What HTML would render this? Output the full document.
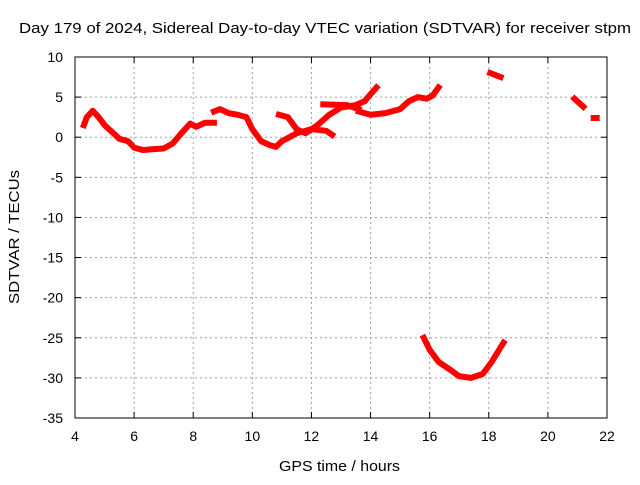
<!DOCTYPE html>
<html><head><meta charset="utf-8"><style>
body{margin:0;background:#fff}
svg text{font-family:"Liberation Sans",sans-serif;font-size:14px;fill:#000}
</style></head><body>
<svg id="c" width="640" height="480">
<rect width="640" height="480" fill="#fff"/>
<text x="19" y="33" textLength="612" lengthAdjust="spacingAndGlyphs" style="font-size:15px">Day 179 of 2024, Sidereal Day-to-day VTEC variation (SDTVAR) for receiver stpm</text>
<text x="279" y="471" textLength="121" lengthAdjust="spacingAndGlyphs" style="font-size:15px">GPS time / hours</text>
<text transform="translate(19,304) rotate(-90)" textLength="134" lengthAdjust="spacingAndGlyphs" style="font-size:15px">SDTVAR / TECUs</text>
<g id="grid"></g><g id="marks"></g>
<rect x="75" y="57" width="532" height="361" fill="none" stroke="#000"/>
</svg>
<script>
const xTicks=[4,6,8,10,12,14,16,18,20,22];
const yTicks=[10,5,0,-5,-10,-15,-20,-25,-30,-35];
const seriesA_t=[4.3,4.4,4.6,4.8,5.0,5.3,5.5,5.8,6.0,6.3,6.6,7.0,7.3,7.6,7.9,8.1,8.4,8.7];
const seriesA_v=[1.5,2.5,3.3,2.5,1.5,0.5,-0.2,-0.5,-1.3,-1.6,-1.5,-1.4,-0.8,0.5,1.7,1.3,1.8,1.8];
const seriesB_t=[8.7,8.9,9.2,9.5,9.8,10.0,10.3,10.6,10.8,11.0,11.5,12.0,12.5,12.7];
const seriesB_v=[3.2,3.5,3.0,2.8,2.5,1.0,-0.5,-1.0,-1.2,-0.5,0.5,1.0,0.8,0.3];
const seriesC_t=[10.9,11.2,11.5,11.8,12.2,12.6,13.0,13.5,13.8,14.2];
const seriesC_v=[2.8,2.5,1.0,0.5,1.5,2.8,3.7,4.0,4.5,6.2];
const seriesD_t=[12.4,13.2,13.6];
const seriesD_v=[4.1,4.0,3.5];
const seriesE_t=[13.6,14.0,14.5,15.0,15.3,15.6,15.9,16.1,16.3];
const seriesE_v=[3.2,2.8,3.0,3.5,4.5,5.0,4.8,5.2,6.2];
const seriesF_t=[18.05,18.4];
const seriesF_v=[8.0,7.5];
const seriesG_t=[20.9,21.2];
const seriesG_v=[4.8,3.8];
const seriesH_t=[21.55,21.65];
const seriesH_v=[2.4,2.4];
const seriesI_t=[15.8,16.0,16.3,16.7,17.0,17.4,17.8,18.1,18.5];
const seriesI_v=[-25,-26.5,-28,-29,-29.8,-30,-29.5,-28,-25.6];
const X=t=>75+(t-4)*532/18, Y=v=>57+(10-v)*361/45;
const NS='http://www.w3.org/2000/svg';
const g=document.getElementById('grid'), m=document.getElementById('marks');
function mk(p,tag,a){const e=document.createElementNS(NS,tag);for(const k in a)e.setAttribute(k,a[k]);p.appendChild(e);return e;}
xTicks.forEach(t=>{
  const l=mk(g,'line',{x1:X(t),x2:X(t),y1:57,y2:418,stroke:'#a0a0a0','stroke-dasharray':'2,3'});
  
  
  mk(g,'line',{x1:X(t),x2:X(t),y1:418,y2:412,stroke:'#000'});
  mk(g,'line',{x1:X(t),x2:X(t),y1:57,y2:63,stroke:'#000'});
  const s=mk(g,'text',{x:X(t),y:441,'text-anchor':'middle'});s.textContent=t;
  
  
});
yTicks.forEach(v=>{
  const l=mk(g,'line',{x1:75,x2:607,y1:Y(v),y2:Y(v),stroke:'#a0a0a0','stroke-dasharray':'2,3'});
  
  
  mk(g,'line',{x1:75,x2:81,y1:Y(v),y2:Y(v),stroke:'#000'});
  mk(g,'line',{x1:607,x2:601,y1:Y(v),y2:Y(v),stroke:'#000'});
  const s=mk(g,'text',{x:63,y:Y(v)+5,'text-anchor':'end'});s.textContent=v;
  
  
});
const all=[[seriesA_t,seriesA_v],[seriesB_t,seriesB_v],[seriesC_t,seriesC_v],[seriesD_t,seriesD_v],[seriesE_t,seriesE_v],[seriesF_t,seriesF_v],[seriesG_t,seriesG_v],[seriesH_t,seriesH_v],[seriesI_t,seriesI_v]];
all.forEach(([ts,vs])=>{
  const p=mk(m,'polyline',{points:ts.map((t,i)=>X(t)+','+Y(vs[i])).join(' '),fill:'none',stroke:'#ff0000','stroke-width':6,'stroke-linejoin':'round','stroke-linecap':'square'});
  
  
});
</script>
</body></html>
